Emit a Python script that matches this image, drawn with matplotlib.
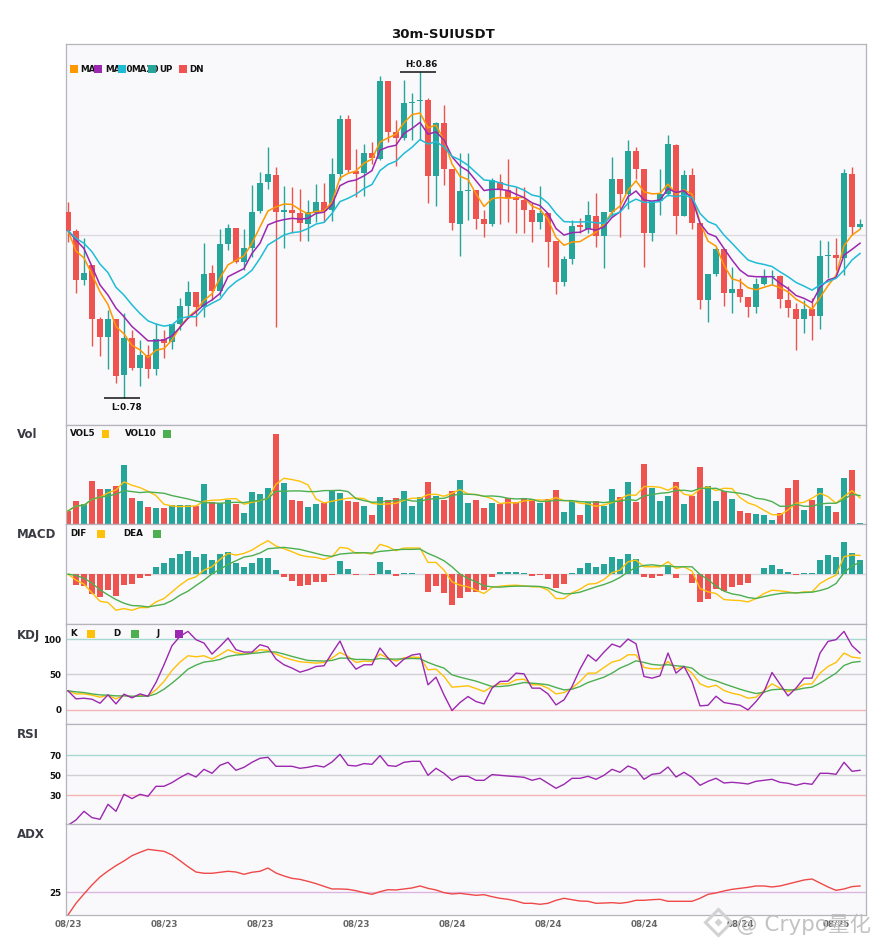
import numpy as np
import matplotlib
matplotlib.use("Agg")
import matplotlib.pyplot as plt
from matplotlib.patches import Rectangle
from matplotlib.lines import Line2D

plt.rcParams['font.family'] = ['DejaVu Sans', 'Noto Sans CJK SC']

symbol = "30m-SUIUSDT"
date_labels = ["08/23", "08/23", "08/23", "08/23", "08/24", "08/24", "08/24", "08/24", "08/25"]
label_every = 12  # one date label every 12 bars (6 hours)

# ---- OHLC (30m bars) ----
open_ = [0.8256, 0.8211, 0.8090, 0.8127, 0.7995, 0.7951, 0.7995, 0.7858, 0.7949, 0.7875,
         0.7907, 0.7873, 0.7945, 0.7937, 0.7982, 0.8026, 0.8060, 0.8025, 0.8106, 0.8064,
         0.8178, 0.8217, 0.8134, 0.8168, 0.8260, 0.8331, 0.8347, 0.8256, 0.8261, 0.8253,
         0.8227, 0.8255, 0.8281, 0.8261, 0.8349, 0.8484, 0.8357, 0.8352, 0.8401, 0.8387,
         0.8577, 0.8452, 0.8438, 0.8524, 0.8528, 0.8531, 0.8345, 0.8474, 0.8362, 0.8228,
         0.8308, 0.8310, 0.8239, 0.8228, 0.8331, 0.8310, 0.8294, 0.8286, 0.8261, 0.8232,
         0.8255, 0.8185, 0.8086, 0.8141, 0.8224, 0.8216, 0.8247, 0.8198, 0.8256, 0.8337,
         0.8301, 0.8406, 0.8362, 0.8206, 0.8283, 0.8300, 0.8420, 0.8247, 0.8347, 0.8230,
         0.8042, 0.8105, 0.8167, 0.8059, 0.8067, 0.8048, 0.8025, 0.8080, 0.8097, 0.8100,
         0.8041, 0.8020, 0.7995, 0.8018, 0.8002, 0.8149, 0.8150, 0.8145, 0.8349, 0.8220]
high = [0.8281, 0.8214, 0.8192, 0.8127, 0.8000, 0.8016, 0.7995, 0.8008, 0.7967, 0.7943,
        0.7931, 0.7984, 0.7967, 0.7982, 0.8047, 0.8087, 0.8060, 0.8181, 0.8126, 0.8216,
        0.8227, 0.8217, 0.8216, 0.8323, 0.8354, 0.8416, 0.8367, 0.8320, 0.8318, 0.8314,
        0.8286, 0.8325, 0.8327, 0.8389, 0.8493, 0.8493, 0.8411, 0.8423, 0.8427, 0.8589,
        0.8577, 0.8482, 0.8580, 0.8547, 0.8600, 0.8536, 0.8478, 0.8519, 0.8362, 0.8400,
        0.8400, 0.8310, 0.8261, 0.8340, 0.8349, 0.8386, 0.8318, 0.8318, 0.8278, 0.8320,
        0.8255, 0.8185, 0.8149, 0.8237, 0.8241, 0.8284, 0.8302, 0.8256, 0.8391, 0.8337,
        0.8433, 0.8415, 0.8362, 0.8286, 0.8362, 0.8445, 0.8424, 0.8359, 0.8364, 0.8230,
        0.8105, 0.8171, 0.8167, 0.8122, 0.8096, 0.8048, 0.8096, 0.8118, 0.8114, 0.8102,
        0.8075, 0.8033, 0.8042, 0.8045, 0.8188, 0.8185, 0.8192, 0.8361, 0.8367, 0.8239]
low = [0.8184, 0.8059, 0.8078, 0.7928, 0.7904, 0.7871, 0.7837, 0.7800, 0.7869, 0.7831,
       0.7849, 0.7858, 0.7898, 0.7920, 0.7967, 0.7996, 0.7977, 0.8000, 0.8041, 0.8051,
       0.8163, 0.8132, 0.8114, 0.8147, 0.8253, 0.8313, 0.7976, 0.8168, 0.8206, 0.8185,
       0.8185, 0.8232, 0.8232, 0.8235, 0.8335, 0.8355, 0.8294, 0.8296, 0.8375, 0.8384,
       0.8429, 0.8369, 0.8433, 0.8433, 0.8433, 0.8278, 0.8271, 0.8323, 0.8212, 0.8149,
       0.8237, 0.8214, 0.8196, 0.8223, 0.8227, 0.8232, 0.8206, 0.8206, 0.8184, 0.8216,
       0.8122, 0.8056, 0.8075, 0.8129, 0.8204, 0.8206, 0.8171, 0.8119, 0.8247, 0.8196,
       0.8265, 0.8337, 0.8122, 0.8186, 0.8250, 0.8296, 0.8202, 0.8247, 0.8216, 0.8020,
       0.7988, 0.8100, 0.8027, 0.8008, 0.8037, 0.8000, 0.8010, 0.8078, 0.8078, 0.8022,
       0.8000, 0.7918, 0.7959, 0.7944, 0.7969, 0.8096, 0.8114, 0.8102, 0.8200, 0.8216]
close = [0.8211, 0.8090, 0.8108, 0.7995, 0.7951, 0.7995, 0.7856, 0.7949, 0.7875, 0.7907,
         0.7873, 0.7945, 0.7935, 0.7982, 0.8026, 0.8060, 0.8025, 0.8105, 0.8064, 0.8178,
         0.8217, 0.8134, 0.8168, 0.8256, 0.8327, 0.8349, 0.8256, 0.8261, 0.8255, 0.8230,
         0.8256, 0.8281, 0.8260, 0.8349, 0.8484, 0.8359, 0.8349, 0.8401, 0.8389, 0.8577,
         0.8452, 0.8438, 0.8524, 0.8527, 0.8531, 0.8345, 0.8475, 0.8362, 0.8229, 0.8308,
         0.8310, 0.8239, 0.8228, 0.8335, 0.8313, 0.8291, 0.8286, 0.8261, 0.8232, 0.8255,
         0.8184, 0.8086, 0.8141, 0.8222, 0.8219, 0.8249, 0.8198, 0.8256, 0.8337, 0.8301,
         0.8406, 0.8362, 0.8206, 0.8283, 0.8300, 0.8423, 0.8247, 0.8347, 0.8230, 0.8042,
         0.8105, 0.8167, 0.8059, 0.8067, 0.8049, 0.8025, 0.8079, 0.8097, 0.8100, 0.8044,
         0.8022, 0.7995, 0.8018, 0.8002, 0.8149, 0.8150, 0.8145, 0.8351, 0.8220, 0.8227]

ma5 = [0.8211, 0.8161, 0.8144, 0.8104, 0.8061, 0.8030, 0.7976, 0.7958, 0.7930, 0.7919,
       0.7900, 0.7918, 0.7922, 0.7943, 0.7975, 0.7999, 0.8015, 0.8040, 0.8056, 0.8095,
       0.8127, 0.8138, 0.8149, 0.8180, 0.8220, 0.8259, 0.8269, 0.8276, 0.8275, 0.8262,
       0.8252, 0.8258, 0.8259, 0.8281, 0.8340, 0.8351, 0.8357, 0.8376, 0.8386, 0.8428,
       0.8438, 0.8447, 0.8475, 0.8495, 0.8499, 0.8463, 0.8469, 0.8433, 0.8374, 0.8344,
       0.8336, 0.8301, 0.8270, 0.8289, 0.8292, 0.8290, 0.8292, 0.8292, 0.8271, 0.8263,
       0.8238, 0.8194, 0.8175, 0.8183, 0.8184, 0.8196, 0.8207, 0.8227, 0.8256, 0.8271,
       0.8310, 0.8333, 0.8306, 0.8301, 0.8302, 0.8325, 0.8300, 0.8311, 0.8300, 0.8231,
       0.8185, 0.8173, 0.8126, 0.8093, 0.8087, 0.8071, 0.8066, 0.8072, 0.8078, 0.8071,
       0.8061, 0.8043, 0.8032, 0.8018, 0.8047, 0.8076, 0.8101, 0.8174, 0.8200, 0.8214]
ma10 = [0.8211, 0.8188, 0.8167, 0.8123, 0.8078, 0.8053, 0.8021, 0.8000, 0.7976, 0.7959,
        0.7941, 0.7941, 0.7943, 0.7953, 0.7974, 0.7996, 0.8012, 0.8029, 0.8041, 0.8057,
        0.8098, 0.8108, 0.8118, 0.8155, 0.8180, 0.8225, 0.8233, 0.8238, 0.8241, 0.8239,
        0.8241, 0.8253, 0.8256, 0.8274, 0.8321, 0.8331, 0.8335, 0.8345, 0.8358, 0.8408,
        0.8416, 0.8420, 0.8449, 0.8461, 0.8476, 0.8447, 0.8453, 0.8433, 0.8392, 0.8369,
        0.8357, 0.8333, 0.8309, 0.8312, 0.8312, 0.8309, 0.8300, 0.8292, 0.8279, 0.8272,
        0.8253, 0.8216, 0.8200, 0.8206, 0.8207, 0.8216, 0.8212, 0.8220, 0.8243, 0.8257,
        0.8294, 0.8308, 0.8286, 0.8283, 0.8286, 0.8314, 0.8304, 0.8309, 0.8290, 0.8229,
        0.8204, 0.8196, 0.8167, 0.8139, 0.8114, 0.8100, 0.8098, 0.8098, 0.8098, 0.8082,
        0.8069, 0.8052, 0.8045, 0.8035, 0.8072, 0.8090, 0.8096, 0.8151, 0.8165, 0.8180]
ma20 = [0.8211, 0.8192, 0.8180, 0.8159, 0.8129, 0.8108, 0.8072, 0.8053, 0.8029, 0.8008,
        0.7990, 0.7982, 0.7977, 0.7980, 0.7996, 0.8000, 0.8000, 0.8022, 0.8033, 0.8043,
        0.8069, 0.8086, 0.8098, 0.8114, 0.8143, 0.8176, 0.8188, 0.8200, 0.8206, 0.8208,
        0.8216, 0.8227, 0.8231, 0.8253, 0.8282, 0.8290, 0.8300, 0.8314, 0.8324, 0.8358,
        0.8373, 0.8381, 0.8400, 0.8415, 0.8434, 0.8423, 0.8429, 0.8416, 0.8393, 0.8384,
        0.8371, 0.8353, 0.8335, 0.8333, 0.8328, 0.8322, 0.8318, 0.8310, 0.8298, 0.8294,
        0.8278, 0.8253, 0.8233, 0.8232, 0.8232, 0.8233, 0.8230, 0.8229, 0.8249, 0.8256,
        0.8278, 0.8288, 0.8280, 0.8280, 0.8282, 0.8298, 0.8294, 0.8298, 0.8292, 0.8253,
        0.8233, 0.8225, 0.8200, 0.8180, 0.8159, 0.8139, 0.8132, 0.8128, 0.8123, 0.8110,
        0.8098, 0.8084, 0.8075, 0.8065, 0.8078, 0.8086, 0.8094, 0.8114, 0.8139, 0.8155]

# ---- volume (millions) ----
volume = [0.40, 0.70, 0.60, 1.30, 1.06, 1.06, 1.15, 1.78, 0.79, 0.70,
          0.52, 0.49, 0.49, 0.57, 0.57, 0.57, 0.55, 1.21, 0.68, 0.64,
          0.73, 0.61, 0.34, 0.97, 0.91, 1.09, 2.71, 1.24, 0.73, 0.70,
          0.52, 0.61, 0.63, 1.00, 0.94, 0.70, 0.67, 0.55, 0.28, 0.82,
          0.73, 0.79, 1.00, 0.55, 0.82, 1.27, 0.85, 0.73, 1.00, 1.33,
          0.64, 0.73, 0.49, 0.64, 0.61, 0.79, 0.67, 0.79, 0.76, 0.64,
          0.76, 1.03, 0.37, 0.70, 0.28, 0.67, 0.70, 0.55, 1.06, 0.82,
          1.27, 0.67, 1.81, 1.09, 0.70, 0.85, 1.27, 0.61, 0.85, 1.72,
          1.15, 0.70, 1.00, 0.76, 0.40, 0.34, 0.31, 0.28, 0.13, 0.34,
          1.09, 1.33, 0.43, 0.73, 1.09, 0.55, 0.37, 1.39, 1.63, 0.03]
vol5 = [0.40, 0.55, 0.57, 0.75, 0.81, 0.94, 1.03, 1.27, 1.17, 1.10,
        0.99, 0.86, 0.60, 0.55, 0.53, 0.54, 0.55, 0.69, 0.72, 0.73,
        0.76, 0.77, 0.60, 0.66, 0.71, 0.78, 1.20, 1.38, 1.34, 1.29,
        1.18, 0.76, 0.64, 0.69, 0.74, 0.78, 0.79, 0.77, 0.63, 0.60,
        0.61, 0.63, 0.72, 0.78, 0.78, 0.89, 0.90, 0.84, 0.93, 1.04,
        0.91, 0.89, 0.84, 0.77, 0.62, 0.65, 0.64, 0.70, 0.72, 0.73,
        0.72, 0.80, 0.71, 0.70, 0.63, 0.61, 0.54, 0.58, 0.65, 0.76,
        0.88, 0.87, 1.13, 1.13, 1.11, 1.02, 1.14, 0.90, 0.86, 1.06,
        1.12, 1.01, 1.08, 1.07, 0.80, 0.64, 0.56, 0.42, 0.29, 0.28,
        0.43, 0.63, 0.66, 0.78, 0.93, 0.83, 0.63, 0.83, 1.01, 0.79]
vol10 = [0.40, 0.55, 0.57, 0.75, 0.81, 0.85, 0.90, 1.01, 0.98, 0.95,
         0.97, 0.95, 0.93, 0.86, 0.81, 0.76, 0.70, 0.65, 0.64, 0.63,
         0.65, 0.66, 0.65, 0.69, 0.72, 0.77, 0.99, 0.99, 1.00, 1.00,
         0.98, 0.98, 1.01, 1.01, 1.02, 0.98, 0.77, 0.71, 0.66, 0.67,
         0.69, 0.71, 0.75, 0.70, 0.69, 0.75, 0.77, 0.78, 0.86, 0.91,
         0.90, 0.89, 0.84, 0.85, 0.83, 0.78, 0.76, 0.77, 0.75, 0.68,
         0.69, 0.72, 0.71, 0.71, 0.68, 0.67, 0.67, 0.65, 0.68, 0.69,
         0.75, 0.71, 0.85, 0.89, 0.93, 0.95, 1.01, 1.02, 0.99, 1.08,
         1.07, 1.08, 0.99, 0.96, 0.93, 0.88, 0.78, 0.75, 0.68, 0.54,
         0.54, 0.60, 0.54, 0.54, 0.61, 0.63, 0.63, 0.75, 0.90, 0.86]

# ---- MACD (x1e-3) ----
dif = [0.00, -0.18, -0.30, -0.56, -0.81, -0.85, -1.08, -1.03, -1.08, -1.00,
       -1.00, -0.83, -0.73, -0.53, -0.33, -0.16, -0.08, 0.12, 0.22, 0.44,
       0.62, 0.57, 0.62, 0.72, 0.87, 1.00, 0.84, 0.76, 0.67, 0.57,
       0.52, 0.50, 0.44, 0.52, 0.80, 0.77, 0.62, 0.64, 0.60, 0.89,
       0.82, 0.70, 0.78, 0.78, 0.78, 0.35, 0.35, 0.12, -0.23, -0.33,
       -0.38, -0.48, -0.58, -0.40, -0.36, -0.34, -0.33, -0.35, -0.38, -0.38,
       -0.48, -0.73, -0.73, -0.56, -0.45, -0.30, -0.28, -0.16, 0.04, 0.12,
       0.37, 0.42, 0.22, 0.22, 0.22, 0.37, 0.17, 0.22, 0.09, -0.43,
       -0.53, -0.58, -0.76, -0.78, -0.79, -0.83, -0.73, -0.58, -0.48, -0.50,
       -0.53, -0.57, -0.53, -0.53, -0.28, -0.14, -0.03, 0.52, 0.57, 0.56]
dea = [0.00, -0.04, -0.12, -0.27, -0.47, -0.62, -0.76, -0.87, -0.94, -0.95,
       -0.98, -0.94, -0.90, -0.79, -0.63, -0.51, -0.34, -0.18, 0.01, 0.14,
       0.29, 0.40, 0.51, 0.55, 0.63, 0.76, 0.78, 0.80, 0.77, 0.74,
       0.68, 0.62, 0.56, 0.53, 0.60, 0.62, 0.64, 0.64, 0.63, 0.68,
       0.70, 0.73, 0.74, 0.74, 0.75, 0.62, 0.52, 0.40, 0.22, 0.00,
       -0.13, -0.23, -0.35, -0.38, -0.39, -0.37, -0.36, -0.36, -0.36, -0.37,
       -0.41, -0.52, -0.59, -0.58, -0.54, -0.46, -0.38, -0.31, -0.22, -0.10,
       0.07, 0.20, 0.26, 0.28, 0.25, 0.24, 0.22, 0.22, 0.22, -0.01,
       -0.16, -0.36, -0.51, -0.59, -0.63, -0.70, -0.73, -0.67, -0.62, -0.58,
       -0.56, -0.56, -0.55, -0.54, -0.49, -0.42, -0.28, 0.04, 0.25, 0.35]
macd_hist = [0.00, -0.32, -0.35, -0.59, -0.68, -0.47, -0.65, -0.32, -0.29, -0.11,
             -0.05, 0.22, 0.33, 0.48, 0.60, 0.69, 0.51, 0.60, 0.42, 0.60,
             0.66, 0.33, 0.21, 0.33, 0.48, 0.48, 0.12, -0.08, -0.20, -0.35,
             -0.32, -0.23, -0.23, -0.02, 0.39, 0.15, -0.03, 0.00, -0.04, 0.36,
             0.12, -0.05, 0.03, 0.03, 0.00, -0.53, -0.35, -0.56, -0.91, -0.71,
             -0.53, -0.53, -0.47, -0.08, 0.06, 0.06, 0.06, 0.03, -0.05, -0.03,
             -0.14, -0.41, -0.29, 0.03, 0.18, 0.33, 0.21, 0.30, 0.51, 0.45,
             0.60, 0.45, -0.08, -0.11, -0.05, 0.27, -0.11, 0.00, -0.26, -0.83,
             -0.74, -0.44, -0.50, -0.38, -0.32, -0.26, 0.00, 0.18, 0.27, 0.15,
             0.06, -0.02, 0.03, 0.03, 0.42, 0.57, 0.51, 0.96, 0.63, 0.42]

# ---- KDJ ----
k_line = [26.9, 22.6, 22.6, 20.8, 17.9, 20.8, 15.6, 20.8, 18.4, 20.3,
          19.8, 28.3, 40.1, 55.7, 67.5, 76.4, 75.0, 76.4, 71.7, 77.8,
          84.9, 80.7, 78.8, 80.2, 84.9, 84.0, 78.8, 74.1, 70.8, 67.9,
          67.0, 66.0, 67.0, 73.1, 81.1, 75.5, 67.0, 68.9, 68.4, 78.8,
          73.1, 68.9, 73.6, 74.5, 74.1, 56.6, 57.5, 47.2, 32.1, 33.0,
          34.0, 30.2, 25.9, 33.0, 36.8, 36.8, 42.5, 43.4, 35.4, 35.4,
          30.7, 22.6, 24.5, 30.7, 40.1, 51.9, 51.9, 59.9, 67.5, 70.3,
          77.8, 77.8, 59.9, 58.0, 58.0, 68.4, 57.5, 61.3, 51.9, 36.8,
          32.1, 34.9, 27.4, 23.6, 21.2, 16.5, 17.9, 27.4, 36.8, 30.7,
          25.9, 29.2, 36.3, 36.8, 51.9, 61.3, 67.0, 80.2, 74.5, 73.1]
d_line = [26.9, 25.5, 24.5, 22.6, 21.2, 20.8, 19.8, 19.8, 19.3, 19.3,
          19.3, 22.6, 29.2, 37.7, 47.2, 57.5, 63.2, 67.5, 68.9, 71.2,
          75.5, 77.4, 78.3, 79.7, 80.7, 82.1, 81.6, 78.8, 75.5, 72.6,
          69.8, 69.3, 68.9, 69.8, 73.1, 73.1, 71.2, 71.2, 70.8, 72.6,
          71.7, 71.7, 72.2, 72.6, 72.2, 67.0, 62.7, 59.0, 49.5, 46.2,
          43.4, 40.6, 36.8, 33.0, 33.0, 34.0, 36.3, 38.7, 37.7, 36.8,
          35.4, 31.6, 28.3, 29.2, 33.0, 38.7, 42.5, 46.2, 51.9, 59.0,
          63.7, 69.3, 67.0, 64.2, 63.2, 63.7, 62.3, 61.3, 59.0, 49.5,
          43.9, 41.0, 36.8, 33.0, 29.2, 25.9, 23.1, 25.0, 28.5, 29.2,
          28.3, 28.3, 30.7, 32.1, 37.7, 44.8, 51.9, 62.7, 67.0, 68.4]
j_line = [26.9, 15.6, 16.5, 15.1, 9.4, 21.2, 8.5, 22.2, 17.0, 22.6,
          19.3, 38.7, 63.7, 90.6, 103.8, 110.8, 99.1, 94.3, 78.8, 89.6,
          101.4, 84.9, 81.6, 81.6, 92.0, 88.7, 71.7, 63.7, 59.0, 53.3,
          56.6, 61.3, 62.3, 80.2, 97.2, 71.7, 57.5, 63.7, 63.7, 87.3,
          73.1, 61.3, 71.7, 77.4, 79.2, 35.4, 46.2, 21.2, -0.9, 10.4,
          18.9, 11.8, 8.5, 30.7, 40.1, 40.6, 51.9, 50.9, 30.7, 30.7,
          22.6, 7.1, 14.2, 33.0, 57.5, 77.8, 68.9, 81.6, 92.9, 88.7,
          100.0, 93.4, 47.2, 44.8, 48.1, 80.2, 51.9, 61.3, 40.1, 5.7,
          6.6, 19.3, 10.4, 8.5, 6.6, 0.0, 11.8, 25.9, 52.8, 36.3,
          19.8, 30.7, 44.8, 44.8, 80.2, 96.7, 99.1, 110.8, 90.6, 80.2]

rsi = [0.0, 5.3, 14.0, 7.7, 6.0, 21.0, 14.0, 31.0, 26.7, 31.0,
       29.0, 39.0, 39.0, 42.7, 47.7, 52.0, 48.3, 56.0, 52.0, 60.0,
       63.0, 55.0, 58.0, 63.0, 67.0, 68.0, 59.0, 59.0, 59.0, 57.0,
       58.0, 59.7, 58.3, 63.3, 71.0, 60.0, 59.3, 61.7, 61.0, 69.7,
       59.7, 59.0, 63.0, 64.0, 64.0, 50.0, 57.0, 52.0, 45.0, 49.0,
       49.0, 45.0, 45.0, 50.7, 50.0, 49.3, 48.7, 48.0, 45.0, 47.0,
       42.0, 37.0, 41.0, 47.0, 47.0, 49.0, 46.0, 50.0, 56.0, 53.0,
       59.3, 56.0, 46.0, 51.0, 52.0, 58.3, 48.3, 53.0, 48.0, 40.0,
       44.0, 47.0, 42.3, 43.0, 42.3, 41.3, 44.0, 45.0, 46.0, 43.0,
       42.0, 40.0, 42.0, 41.0, 52.0, 52.0, 51.0, 63.0, 54.0, 55.0]

adx = [0.0, 12.9, 23.2, 33.1, 41.9, 48.5, 54.4, 59.6, 65.4, 69.1,
       72.4, 71.3, 70.2, 66.2, 59.9, 53.3, 47.4, 46.0, 46.0, 47.1,
       48.2, 47.4, 44.9, 47.1, 48.2, 51.8, 46.3, 43.0, 40.4, 39.3,
       37.1, 34.6, 31.6, 28.7, 28.7, 28.3, 26.8, 24.6, 22.8, 25.7,
       27.9, 27.6, 28.7, 29.8, 32.0, 29.4, 27.6, 24.6, 23.2, 23.9,
       22.8, 21.7, 22.4, 20.2, 18.4, 17.3, 15.4, 12.9, 12.9, 11.8,
       12.9, 16.2, 18.4, 16.9, 15.4, 15.1, 12.9, 13.2, 13.6, 12.9,
       14.0, 16.2, 16.2, 16.9, 17.3, 15.1, 15.1, 15.1, 15.1, 18.4,
       22.8, 24.3, 26.5, 28.3, 29.4, 30.5, 32.0, 32.0, 30.9, 32.0,
       34.2, 36.4, 38.6, 39.7, 35.3, 30.9, 27.2, 28.7, 31.3, 32.0]

# colours
UP = '#26A69A'
DN = '#EF5350'
C_MA5, C_MA10, C_MA20 = '#FF9800', '#9C27B0', '#1FBCD6'
YEL, GRN, PUR = '#FFC107', '#4CAF50', '#9C27B0'
BG = '#F9F9FB'
SPINE = '#B4B4BC'

W, H = 885, 950
fig = plt.figure(figsize=(W / 100, H / 100), dpi=100)
fig.patch.set_facecolor('white')

n = len(close)
x = np.arange(n)
o = np.array(open_); c = np.array(close)
hi = np.array(high); lo = np.array(low)
colors = np.where(c >= o, UP, DN)

LEFT, RIGHT = 65.5, 865.7


def panel(top, bottom):
    ax = fig.add_axes([LEFT / W, 1 - bottom / H, (RIGHT - LEFT) / W, (bottom - top) / H])
    ax.set_facecolor(BG)
    for s in ax.spines.values():
        s.set_color(SPINE)
        s.set_linewidth(0.9)
    ax.set_xlim(-0.31, n - 1 + 0.71)
    ax.tick_params(length=0, labelsize=6.3, pad=3)
    ax.set_xticks([])
    ax.set_yticks([])
    return ax


ax_main = panel(44, 424.5)
ax_vol = panel(424.5, 524.3)
ax_macd = panel(524.3, 624.3)
ax_kdj = panel(624.3, 724.3)
ax_rsi = panel(724.3, 824.3)
ax_adx = panel(824.3, 915)

# ---- candles ----
ax_main.axhline(0.82, color='#DCDCE0', lw=1, zorder=1)
ax_main.vlines(x, lo, hi, colors=colors, lw=1.0, zorder=2)
body = np.maximum(np.abs(c - o), 0.00025)
ax_main.bar(x, body, 0.72, bottom=np.minimum(o, c), color=colors, linewidth=0, zorder=3)
ax_main.plot(x, ma5, color=C_MA5, lw=1.1, zorder=4)
ax_main.plot(x, ma10, color=C_MA10, lw=1.1, zorder=4)
ax_main.plot(x, ma20, color=C_MA20, lw=1.1, zorder=4)
ax_main.set_ylim(0.7736, 0.8668)

ih = int(np.argmax(hi)); il = int(np.argmin(lo))
ax_main.hlines(hi[ih], ih - 2.5, ih + 2.0, color='#111111', lw=1.1, zorder=5)
ax_main.annotate(f"H:{hi[ih]:.2f}", (ih + 0.2, hi[ih]), xytext=(0, 1.8), textcoords='offset points',
                 ha='center', va='bottom', fontsize=6.3, fontweight='bold', color='#111111')
ax_main.hlines(lo[il], il - 2.5, il + 2.0, color='#111111', lw=1.1, zorder=5)
ax_main.annotate(f"L:{lo[il]:.2f}", (il + 0.3, lo[il]), xytext=(0, -3.2), textcoords='offset points',
                 ha='center', va='top', fontsize=6.3, fontweight='bold', color='#111111')

# ---- volume ----
ax_vol.bar(x, volume, 0.72, color=colors, linewidth=0, zorder=2)
ax_vol.plot(x, vol5, color=YEL, lw=1.0, zorder=3)
ax_vol.plot(x, vol10, color=GRN, lw=1.0, zorder=3)
ax_vol.set_ylim(0, 2.99)

# ---- MACD ----
hist = np.array(macd_hist)
ax_macd.axhline(0, color='#D6D6DC', lw=1, zorder=1)
ax_macd.bar(x, hist, 0.72, color=np.where(hist >= 0, UP, DN), linewidth=0, zorder=2)
ax_macd.plot(x, dif, color=YEL, lw=1.0, zorder=3)
ax_macd.plot(x, dea, color=GRN, lw=1.0, zorder=3)
ax_macd.set_ylim(-1.50, 1.49)

# ---- KDJ ----
ax_kdj.axhline(100, color='#A8D8D2', lw=1, zorder=1)
ax_kdj.axhline(50, color='#CFCFD4', lw=1, zorder=1)
ax_kdj.axhline(0, color='#F5B5B5', lw=1, zorder=1)
ax_kdj.plot(x, k_line, color=YEL, lw=1.0, zorder=3)
ax_kdj.plot(x, d_line, color=GRN, lw=1.0, zorder=3)
ax_kdj.plot(x, j_line, color=PUR, lw=1.0, zorder=3)
ax_kdj.set_ylim(-20.3, 120.8)
ax_kdj.set_yticks([0, 50, 100])

# ---- RSI ----
ax_rsi.axhline(70, color='#A8D8D2', lw=1, zorder=1)
ax_rsi.axhline(50, color='#CFCFD4', lw=1, zorder=1)
ax_rsi.axhline(30, color='#F5B5B5', lw=1, zorder=1)
ax_rsi.plot(x, rsi, color=PUR, lw=1.0, zorder=3)
ax_rsi.set_ylim(1, 101)
ax_rsi.set_yticks([30, 50, 70])

# ---- ADX ----
ax_adx.axhline(25, color='#DDB6E0', lw=1, zorder=1)
ax_adx.plot(x, adx, color='#F04848', lw=1.0, zorder=3)
ax_adx.set_ylim(0, 100)
ax_adx.set_yticks([25])
ax_adx.set_xticks(x[::label_every])
ax_adx.set_xticklabels(date_labels, color='#666666', fontweight='bold')

for a in (ax_kdj, ax_rsi, ax_adx):
    for lbl in a.get_yticklabels():
        lbl.set_fontweight('bold')
        lbl.set_color('#111111')


# ---- figure-level texts and legend swatches ----
def fx(px):
    return px / W


def fy(py):
    return 1 - py / H


def swatch(px, top, color, z):
    fig.add_artist(Rectangle((fx(px), fy(top + 7.5)), 7.5 / W, 7.5 / H, transform=fig.transFigure,
                             facecolor=color, edgecolor='none', zorder=z))


def small(px, py, s, z):
    fig.text(fx(px), fy(py), s, fontsize=6.3, fontweight='bold', color='#111111',
             ha='left', va='center', zorder=z)


fig.text(0.5, fy(34), symbol, ha='center', va='center', fontsize=9.5, fontweight='bold', color='#111111')

for name, py in [("Vol", 435), ("MACD", 535), ("KDJ", 635), ("RSI", 735), ("ADX", 835)]:
    fig.text(fx(17), fy(py), name, fontsize=8.5, fontweight='bold', color='#3A3A44', ha='left', va='center')

# main legend: swatch then text, next swatch covers the text tail
main_items = [("MA5", C_MA5, 70, 80.7), ("MA10", C_MA10, 94, 105), ("MA20", C_MA20, 118, 131.3),
              ("UP", UP, 148, 159.3), ("DN", DN, 179, 189.3)]
for k, (name, col, sx, tx) in enumerate(main_items):
    swatch(sx, 65.5, col, 10 + 2 * k)
    small(tx, 69.5, name, 11 + 2 * k)

for items, py in [([("VOL5", 70, 101.7, YEL), ("VOL10", 125, 163, GRN)], 434),
                  ([("DIF", 70, 97, YEL), ("DEA", 123, 153, GRN)], 534),
                  ([("K", 70, 87, YEL), ("D", 113, 131, GRN), ("J", 157, 175, PUR)], 634)]:
    for name, tx, sx, col in items:
        small(tx, py, name, 12)
        swatch(sx, py - 4, col, 12)

# watermark
fig.add_artist(Line2D([fx(718)], [fy(922)], marker='D', markersize=13, markerfacecolor='none',
                      markeredgecolor='#D2D2D2', markeredgewidth=2.2, transform=fig.transFigure, zorder=20))
fig.add_artist(Line2D([fx(718)], [fy(922)], marker='D', markersize=4, markerfacecolor='#D2D2D2',
                      markeredgecolor='none', transform=fig.transFigure, zorder=20))
fig.text(fx(736), fy(924), "@ Crypo量化", fontsize=15.5, color='#BDBDBD', alpha=0.9,
         family=['DejaVu Sans', 'Noto Sans CJK SC'], ha='left', va='center', zorder=20)

fig.savefig('out.png', dpi=100, facecolor='white')
